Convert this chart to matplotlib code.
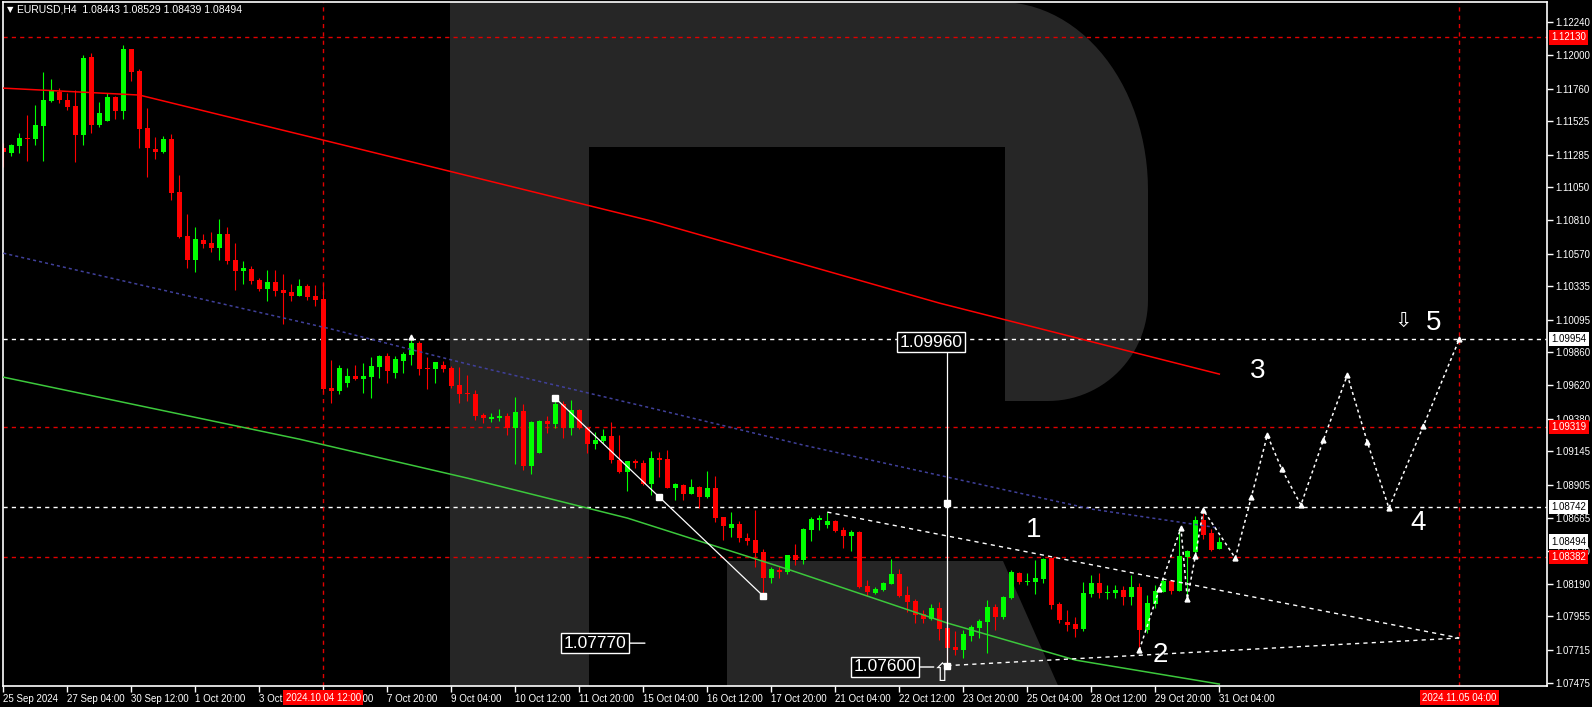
import numpy as np
import pandas as pd
import matplotlib
matplotlib.use('Agg')
import matplotlib.pyplot as plt
import matplotlib.transforms as mtransforms
from matplotlib import font_manager
from matplotlib.patches import Polygon

W, H = 1592, 707

names = {f.name for f in font_manager.fontManager.ttflist}
ui_font = 'Liberation Sans Narrow' if 'Liberation Sans Narrow' in names else 'Liberation Sans'
plt.rcParams['font.family'] = [ui_font, 'DejaVu Sans']

# EURUSD H4 candles (O, H, L, C)
opens = [1.11332, 1.11299, 1.11347, 1.11404, 1.11400, 1.11491, 1.11674, 1.11734, 1.11678, 1.11635,
         1.11426, 1.11986, 1.11498, 1.11527, 1.11700, 1.11599, 1.12046, 1.11888, 1.11477, 1.11325,
         1.11303, 1.11397, 1.11015, 1.10698, 1.10525, 1.10669, 1.10647, 1.10611, 1.10712, 1.10525,
         1.10446, 1.10460, 1.10381, 1.10316, 1.10366, 1.10309, 1.10294, 1.10266, 1.10338, 1.10266,
         1.10244, 1.09601, 1.09582, 1.09640, 1.09688, 1.09666, 1.09681, 1.09753, 1.09832, 1.09709,
         1.09796, 1.09839, 1.09926, 1.09745, 1.09738, 1.09767, 1.09745, 1.09623, 1.09565, 1.09558,
         1.09407, 1.09378, 1.09385, 1.09399, 1.09310, 1.09435, 1.09039, 1.09133, 1.09363, 1.09342,
         1.09486, 1.09310, 1.09443, 1.09310, 1.09200, 1.09219, 1.09255, 1.09082, 1.08996, 1.09075,
         1.09060, 1.08910, 1.09097, 1.09090, 1.08881, 1.08903, 1.08838, 1.08888, 1.08816, 1.08881,
         1.08672, 1.08592, 1.08621, 1.08520, 1.08506, 1.08420, 1.08232, 1.08290, 1.08275, 1.08398,
         1.08362, 1.08578, 1.08650, 1.08614, 1.08642, 1.08578, 1.08534, 1.08563, 1.08174, 1.08123,
         1.08145, 1.08188, 1.08260, 1.08109, 1.08066, 1.07972, 1.07936, 1.08015, 1.07871, 1.07734,
         1.07713, 1.07816, 1.07871, 1.07915, 1.08023, 1.07951, 1.08088, 1.08268, 1.08203, 1.08203,
         1.08225, 1.08376, 1.08044, 1.07915, 1.07900, 1.07864, 1.08117, 1.08195, 1.08123, 1.08123,
         1.08145, 1.08095, 1.08167, 1.07857, 1.08044, 1.08131, 1.08210, 1.08138, 1.08383, 1.08419,
         1.08650, 1.08556, 1.08443]
highs = [1.11371, 1.11361, 1.11438, 1.11570, 1.11642, 1.11880, 1.11827, 1.11762, 1.11726, 1.11750,
         1.12003, 1.12015, 1.11664, 1.11726, 1.11707, 1.12075, 1.12046, 1.11902, 1.11621, 1.11412,
         1.11419, 1.11433, 1.11138, 1.10857, 1.10763, 1.10712, 1.10727, 1.10820, 1.10763, 1.10647,
         1.10518, 1.10482, 1.10395, 1.10453, 1.10453, 1.10424, 1.10352, 1.10388, 1.10352, 1.10345,
         1.10361, 1.09803, 1.09767, 1.09745, 1.09767, 1.09781, 1.09825, 1.09839, 1.09854, 1.09832,
         1.09861, 1.09976, 1.09940, 1.09825, 1.09789, 1.09796, 1.09760, 1.09753, 1.09695, 1.09587,
         1.09419, 1.09421, 1.09450, 1.09421, 1.09536, 1.09486, 1.09363, 1.09370, 1.09399, 1.09510,
         1.09510, 1.09515, 1.09447, 1.09322, 1.09284, 1.09306, 1.09356, 1.09262, 1.09075, 1.09087,
         1.09082, 1.09148, 1.09140, 1.09155, 1.08914, 1.08910, 1.08946, 1.08895, 1.09003, 1.08967,
         1.08672, 1.08708, 1.08643, 1.08556, 1.08722, 1.08441, 1.08311, 1.08319, 1.08398, 1.08477,
         1.08592, 1.08671, 1.08686, 1.08707, 1.08650, 1.08599, 1.08578, 1.08570, 1.08217, 1.08167,
         1.08203, 1.08369, 1.08296, 1.08174, 1.08080, 1.08001, 1.08044, 1.08059, 1.07880, 1.07849,
         1.07857, 1.07893, 1.07936, 1.08073, 1.08044, 1.08102, 1.08289, 1.08275, 1.08268, 1.08362,
         1.08376, 1.08376, 1.08059, 1.08001, 1.07951, 1.08203, 1.08253, 1.08268, 1.08181, 1.08181,
         1.08174, 1.08253, 1.08196, 1.08109, 1.08181, 1.08224, 1.08210, 1.08578, 1.08433, 1.08678,
         1.08700, 1.08585, 1.08529]
lows = [1.11198, 1.11275, 1.11299, 1.11241, 1.11354, 1.11241, 1.11664, 1.11659, 1.11606, 1.11234,
        1.11354, 1.11443, 1.11486, 1.11527, 1.11541, 1.11541, 1.11815, 1.11332, 1.11124, 1.11253,
        1.11294, 1.10958, 1.10683, 1.10467, 1.10438, 1.10611, 1.10583, 1.10525, 1.10496, 1.10309,
        1.10352, 1.10352, 1.10302, 1.10230, 1.10266, 1.10063, 1.10232, 1.10266, 1.10237, 1.10194,
        1.09575, 1.09495, 1.09558, 1.09611, 1.09659, 1.09565, 1.09532, 1.09673, 1.09637, 1.09673,
        1.09709, 1.09767, 1.09695, 1.09594, 1.09637, 1.09717, 1.09601, 1.09493, 1.09507, 1.09370,
        1.09346, 1.09356, 1.09363, 1.09262, 1.09053, 1.09010, 1.08981, 1.09133, 1.09279, 1.09310,
        1.09241, 1.09262, 1.09306, 1.09133, 1.09161, 1.09205, 1.09058, 1.08986, 1.08859, 1.09024,
        1.08902, 1.08830, 1.08960, 1.08881, 1.08794, 1.08794, 1.08838, 1.08737, 1.08809, 1.08636,
        1.08506, 1.08528, 1.08492, 1.08470, 1.08311, 1.08117, 1.08196, 1.08232, 1.08261, 1.08326,
        1.08333, 1.08498, 1.08578, 1.08592, 1.08563, 1.08448, 1.08426, 1.08160, 1.08102, 1.08116,
        1.08138, 1.08188, 1.08095, 1.07986, 1.07910, 1.07907, 1.07929, 1.07785, 1.07600, 1.07677,
        1.07655, 1.07780, 1.07799, 1.07694, 1.07857, 1.07936, 1.08080, 1.08189, 1.08181, 1.08116,
        1.08196, 1.08008, 1.07907, 1.07850, 1.07806, 1.07850, 1.08095, 1.08087, 1.08080, 1.08087,
        1.08037, 1.08037, 1.07698, 1.07835, 1.08015, 1.08131, 1.08116, 1.08138, 1.08073, 1.08390,
        1.08513, 1.08426, 1.08439]
closes = [1.11303, 1.11352, 1.11404, 1.11397, 1.11496, 1.11678, 1.11741, 1.11678, 1.11630, 1.11426,
          1.11981, 1.11498, 1.11585, 1.11700, 1.11599, 1.12046, 1.11880, 1.11469, 1.11332, 1.11306,
          1.11397, 1.11008, 1.10691, 1.10525, 1.10676, 1.10640, 1.10611, 1.10712, 1.10518, 1.10446,
          1.10467, 1.10374, 1.10316, 1.10366, 1.10302, 1.10287, 1.10268, 1.10338, 1.10258, 1.10237,
          1.09594, 1.09582, 1.09745, 1.09688, 1.09666, 1.09688, 1.09760, 1.09832, 1.09724, 1.09810,
          1.09846, 1.09926, 1.09738, 1.09738, 1.09789, 1.09738, 1.09616, 1.09558, 1.09558, 1.09399,
          1.09387, 1.09392, 1.09399, 1.09310, 1.09428, 1.09039, 1.09356, 1.09363, 1.09342, 1.09486,
          1.09310, 1.09443, 1.09310, 1.09200, 1.09226, 1.09255, 1.09082, 1.08996, 1.09075, 1.09063,
          1.08909, 1.09097, 1.09083, 1.08881, 1.08910, 1.08838, 1.08888, 1.08816, 1.08881, 1.08665,
          1.08607, 1.08621, 1.08520, 1.08499, 1.08412, 1.08232, 1.08297, 1.08275, 1.08398, 1.08362,
          1.08585, 1.08657, 1.08664, 1.08642, 1.08570, 1.08537, 1.08563, 1.08167, 1.08131, 1.08152,
          1.08195, 1.08260, 1.08102, 1.08059, 1.07965, 1.07936, 1.08015, 1.07864, 1.07727, 1.07713,
          1.07828, 1.07879, 1.07922, 1.08023, 1.07951, 1.08095, 1.08275, 1.08203, 1.08213, 1.08232,
          1.08369, 1.08037, 1.07929, 1.07893, 1.07864, 1.08124, 1.08196, 1.08123, 1.08131, 1.08145,
          1.08095, 1.08167, 1.07857, 1.08051, 1.08138, 1.08210, 1.08138, 1.08390, 1.08426, 1.08650,
          1.08542, 1.08433, 1.08494]

# moving averages (sampled along the line)
red_ma_idx = [0, 17, 41, 81, 117, 152]
red_ma_val = [1.11764, 1.11714, 1.11375, 1.10806, 1.10214, 1.09702]
blue_ma_idx = [0, 41, 59, 81, 100, 136, 152]
blue_ma_val = [1.10574, 1.10027, 1.09760, 1.09457, 1.09190, 1.08729, 1.08592]
green_ma_idx = [0, 37, 58, 78, 98, 118, 134, 152]
green_ma_val = [1.09680, 1.09233, 1.08952, 1.08664, 1.08296, 1.07907, 1.07640, 1.07467]

red_levels = [1.12130, 1.09319, 1.08382]
white_levels = [1.09954, 1.08742]
last_price = 1.08494

y_ticks = [1.12240, 1.12000, 1.11760, 1.11525, 1.11285, 1.11050, 1.10810, 1.10570, 1.10335,
           1.10095, 1.09860, 1.09620, 1.09380, 1.09145, 1.08905, 1.08665, 1.08430, 1.08190,
           1.07955, 1.07715, 1.07475]

# analysis objects
fall_idx = [69, 82, 95]
fall_val = [1.09529, 1.08815, 1.08101]
drop_idx = 118
drop_top, drop_mid, drop_low = 1.09960, 1.08772, 1.07600
upper_tl_idx = [103, 182]
upper_tl_val = [1.08707, 1.07799]
lower_tl_idx = [118, 182]
lower_tl_val = [1.07600, 1.07799]
path_idx = [142, 144.5, 147.2, 148, 149, 150, 154, 156, 158, 159.8, 162.2, 165, 168, 170.5, 173.2, 177.5, 182]
path_val = [1.07712, 1.08152, 1.08592, 1.08080, 1.08390, 1.08722, 1.08375, 1.08815, 1.09262, 1.09017,
            1.08758, 1.09226, 1.09695, 1.09212, 1.08736, 1.09327, 1.09954]
wave_labels = ['1', '2', '3', '4', '5']
wave_idx = [128.8, 144.6, 156.8, 176.8, 178.8]
wave_val = [1.08578, 1.07677, 1.09724, 1.08628, 1.10070]

# time axis: H4 bars, no weekends
times = []
t = pd.Timestamp('2024-09-25 20:00')
while len(times) < len(opens):
    if t.dayofweek < 5:
        times.append(t)
    t += pd.Timedelta(hours=4)

fig = plt.figure(figsize=(W / 100, H / 100), dpi=100, facecolor='black')
ax = fig.add_axes([3 / W, 21 / H, 1544 / W, 684 / H])
ax.set_facecolor('black')
ax.set_xlim(-0.04, 192.96)
ax.set_ylim(1.07453, 1.12385)

# big "R" watermark
def px(pts):
    return [(x / W, 1 - y / H) for x, y in pts]

wm = '#262626'
ax.add_patch(Polygon(px([(450, 0), (589, 0), (589, 707), (450, 707)]), closed=True,
                     transform=fig.transFigure, fc=wm, ec='none', zorder=0))
th = np.linspace(np.pi / 2, 0, 30)
arc1 = [(1000 + 148 * np.cos(a), 190 - 188 * np.sin(a)) for a in th]
th2 = np.linspace(0, -np.pi / 2, 30)
arc2 = [(1048 + 100 * np.cos(a), 300 - 101 * np.sin(a)) for a in th2]
bowl = [(589, 0), (1000, 0)] + arc1 + arc2 + [(1005, 401), (1005, 147), (589, 147)]
ax.add_patch(Polygon(px(bowl), closed=True, transform=fig.transFigure, fc=wm, ec='none', zorder=0))
ax.add_patch(Polygon(px([(727, 561), (1003, 561), (1060, 690), (727, 690)]), closed=True,
                     transform=fig.transFigure, fc=wm, ec='none', zorder=0))

# level lines
for lv in red_levels:
    ax.axhline(lv, color='#e00000', ls=(0, (3, 3)), lw=1, zorder=1)
for lv in white_levels:
    ax.axhline(lv, color='white', ls=(0, (3, 3)), lw=1, zorder=1)
ax.axvline(40, color='#e00000', ls=(0, (3, 3)), lw=1, zorder=1)
ax.axvline(182, color='#e00000', ls=(0, (3, 3)), lw=1, zorder=1)

# candles
o = np.array(opens); h = np.array(highs); l = np.array(lows); c = np.array(closes)
x = np.arange(len(o))
cols = np.where(c >= o, '#00ff00', '#ff0000')
ax.vlines(x, l, h, colors=cols, lw=0.8, zorder=2)
ax.bar(x, np.maximum(np.abs(c - o), 0.00004), bottom=np.minimum(o, c), width=0.65,
       color=cols, lw=0, zorder=2)

# moving averages
ax.plot(red_ma_idx, red_ma_val, color='#ff0000', lw=1.1, zorder=3)
ax.plot(blue_ma_idx, blue_ma_val, color='#40409a', lw=1.1, ls=(0, (2, 2)), zorder=3)
ax.plot(green_ma_idx, green_ma_val, color='#3cc83c', lw=1.1, zorder=3)

# wave analysis drawings
ax.plot(fall_idx, fall_val, color='white', lw=0.9, marker='s', ms=4, zorder=4)
ax.plot([drop_idx, drop_idx], [drop_top, drop_low], color='white', lw=0.9, zorder=4)
ax.plot([drop_idx, drop_idx], [drop_mid, drop_low], ls='none', marker='s', ms=4, color='white', zorder=4)
ax.plot(upper_tl_idx, upper_tl_val, color='white', lw=1, ls=(0, (3, 3)), zorder=4)
ax.plot(lower_tl_idx, lower_tl_val, color='white', lw=1, ls=(0, (3, 3)), zorder=4)
ax.plot(path_idx, path_val, color='white', lw=1.1, ls=(0, (2, 2)), zorder=4)
ax.plot(path_idx, path_val, ls='none', marker='^', ms=3.5, color='white', zorder=4)
ax.plot([51], [1.09970], ls='none', marker='^', ms=3.5, color='white', zorder=4)

for s, xi, yv in zip(wave_labels, wave_idx, wave_val):
    ax.text(xi, yv, s, color='white', fontsize=20, family='Liberation Sans',
            ha='center', va='center', zorder=5)
ax.text(175, 1.10085, '\u21e9', color='white', fontsize=15, family='DejaVu Sans',
        ha='center', va='center', zorder=5)

box = dict(boxstyle='square,pad=0.15', fc='black', ec='white', lw=1)
ax.text(116, 1.09933, '1.09960', color='white', fontsize=12.5, family='Liberation Sans',
        ha='center', va='center', bbox=box, zorder=6)
ax.annotate('1.07770', xy=(80.2, 1.07762), xytext=(74, 1.07762), color='white', fontsize=12.5,
            family='Liberation Sans', ha='center', va='center', bbox=box, zorder=6,
            arrowprops=dict(arrowstyle='-', color='white', lw=1, shrinkA=0, shrinkB=0))
ax.annotate('1.07600', xy=(116.3, 1.07590), xytext=(110.2, 1.07590), color='white', fontsize=12.5,
            family='Liberation Sans', ha='center', va='center', bbox=box, zorder=6,
            arrowprops=dict(arrowstyle='-', color='white', lw=1, shrinkA=0, shrinkB=0))
ax.text(117.4, 1.07540, '\u21e7', color='white', fontsize=18, family='DejaVu Sans',
        ha='center', va='center', zorder=6)

# axes styling
for sp in ax.spines.values():
    sp.set_color('white')
    sp.set_linewidth(1.2)
ax.yaxis.tick_right()
ax.set_yticks(y_ticks)
ax.set_yticklabels([f'{v:.5f}' for v in y_ticks])
tick_pos = list(range(0, len(times), 8))
ax.set_xticks(tick_pos)
ax.set_xticklabels(['25 Sep 2024' if i == 0 else f'{times[i].day} {times[i]:%b %H:%M}' for i in tick_pos])
ax.tick_params(colors='white', labelsize=7, length=4, width=1, pad=2)
for lab in ax.get_xticklabels():
    lab.set_ha('left')

ytr = mtransforms.blended_transform_factory(ax.transAxes, ax.transData)
def tag(price, fc, tc):
    ax.text(1.0028, price, f'{price:.5f}', transform=ytr, ha='left', va='center', fontsize=7,
            color=tc, clip_on=False, zorder=10,
            bbox=dict(boxstyle='square,pad=0.22', fc=fc, ec='none'))

for lv in red_levels:
    tag(lv, '#ff0000', 'white')
for lv in white_levels + [last_price]:
    tag(lv, 'white', 'black')

xtr = mtransforms.blended_transform_factory(ax.transData, ax.transAxes)
for xi, s in [(40, '2024.10.04 12:00'), (182, '2024.11.05 04:00')]:
    ax.text(xi, -0.017, s, transform=xtr, ha='center', va='center', fontsize=7, color='white',
            clip_on=False, zorder=10, bbox=dict(boxstyle='square,pad=0.25', fc='#ff0000', ec='none'))

fig.text(7 / W, 1 - 10 / H, '\u25bc', color='white', fontsize=6, family='DejaVu Sans', va='center')
fig.text(17 / W, 1 - 10 / H, 'EURUSD,H4  1.08443 1.08529 1.08439 1.08494', color='white',
         fontsize=7.5, va='center')

fig.savefig('out.png', dpi=100, facecolor='black')
